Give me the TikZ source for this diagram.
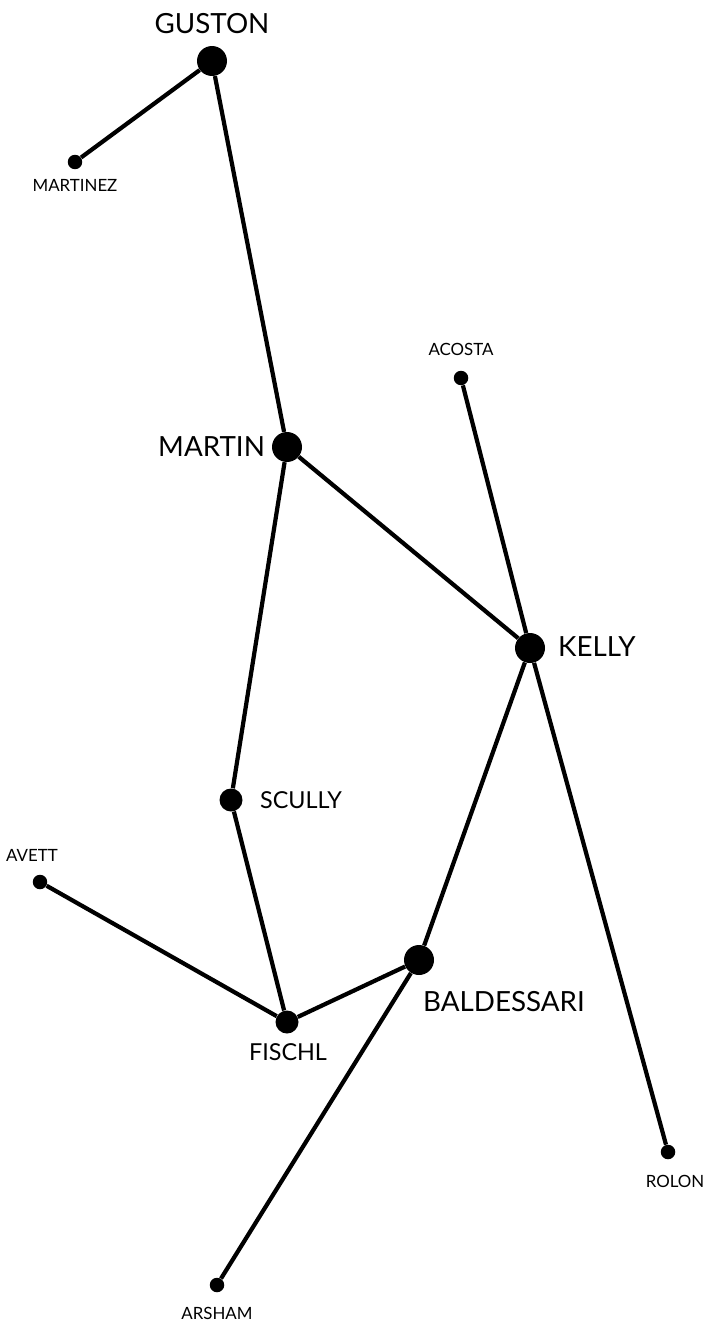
\documentclass[tikz,border=0pt]{standalone}
\usepackage{fontspec}
\setmainfont{Lato}
\usepackage{tikz}
\usetikzlibrary{positioning}

\begin{document}
\begin{tikzpicture}[
    x=0.02cm, y=-0.02cm,
    big/.style={circle, fill=black, inner sep=0pt, minimum size=0.6cm},
    mid/.style={circle, fill=black, inner sep=0pt, minimum size=0.46cm},
    small/.style={circle, fill=black, inner sep=0pt, minimum size=0.29cm},
    blab/.style={font=\fontsize{15.8}{17}\selectfont, inner sep=1pt},
    mlab/.style={font=\fontsize{13.3}{15}\selectfont, inner sep=1pt},
    slab/.style={font=\fontsize{9.6}{11}\selectfont, inner sep=1pt},
    edge/.style={line width=2.4pt}
]
\useasboundingbox (0,0) rectangle (707,1321);

% Artists (dots)
\node[big]   (guston)     at (212, 61)   {};
\node[small] (martinez)   at (75, 162)   {};
\node[small] (acosta)     at (461, 378)  {};
\node[big]   (martin)     at (287, 447)  {};
\node[big]   (kelly)      at (530, 648)  {};
\node[mid]   (scully)     at (231, 800)  {};
\node[small] (avett)      at (40, 882)   {};
\node[big]   (baldessari) at (419, 960)  {};
\node[mid]   (fischl)     at (287, 1022) {};
\node[small] (rolon)      at (668, 1152) {};
\node[small] (arsham)     at (217, 1285) {};

% Names
\node[blab] (gustonlab)     at (212, 24)   {GUSTON};
\node[slab] (martinezlab)   at (75, 185)   {MARTINEZ};
\node[slab] (acostalab)     at (461, 349)  {ACOSTA};
\node[blab, anchor=east] (martinlab) at (267, 447) {MARTIN};
\node[blab, anchor=west] (kellylab)  at (556, 647) {KELLY};
\node[mlab, anchor=west] (scullylab) at (258, 800) {SCULLY};
\node[slab] (avettlab)      at (32, 855)   {AVETT};
\node[blab, anchor=west] (baldessarilab) at (421, 1002) {BALDESSARI};
\node[mlab] (fischllab)     at (288, 1052) {FISCHL};
\node[slab] (rolonlab)      at (675, 1181) {ROLON};
\node[slab] (arshamlab)     at (217, 1313) {ARSHAM};

% Links
\draw[edge] (guston) -- (martinez);
\draw[edge] (guston) -- (martin);
\draw[edge] (martin) -- (kelly);
\draw[edge] (martin) -- (scully);
\draw[edge] (scully) -- (fischl);
\draw[edge] (avett) -- (fischl);
\draw[edge] (fischl) -- (baldessari);
\draw[edge] (baldessari) -- (kelly);
\draw[edge] (baldessari) -- (arsham);
\draw[edge] (acosta) -- (kelly);
\draw[edge] (kelly) -- (rolon);

\end{tikzpicture}
\end{document}
